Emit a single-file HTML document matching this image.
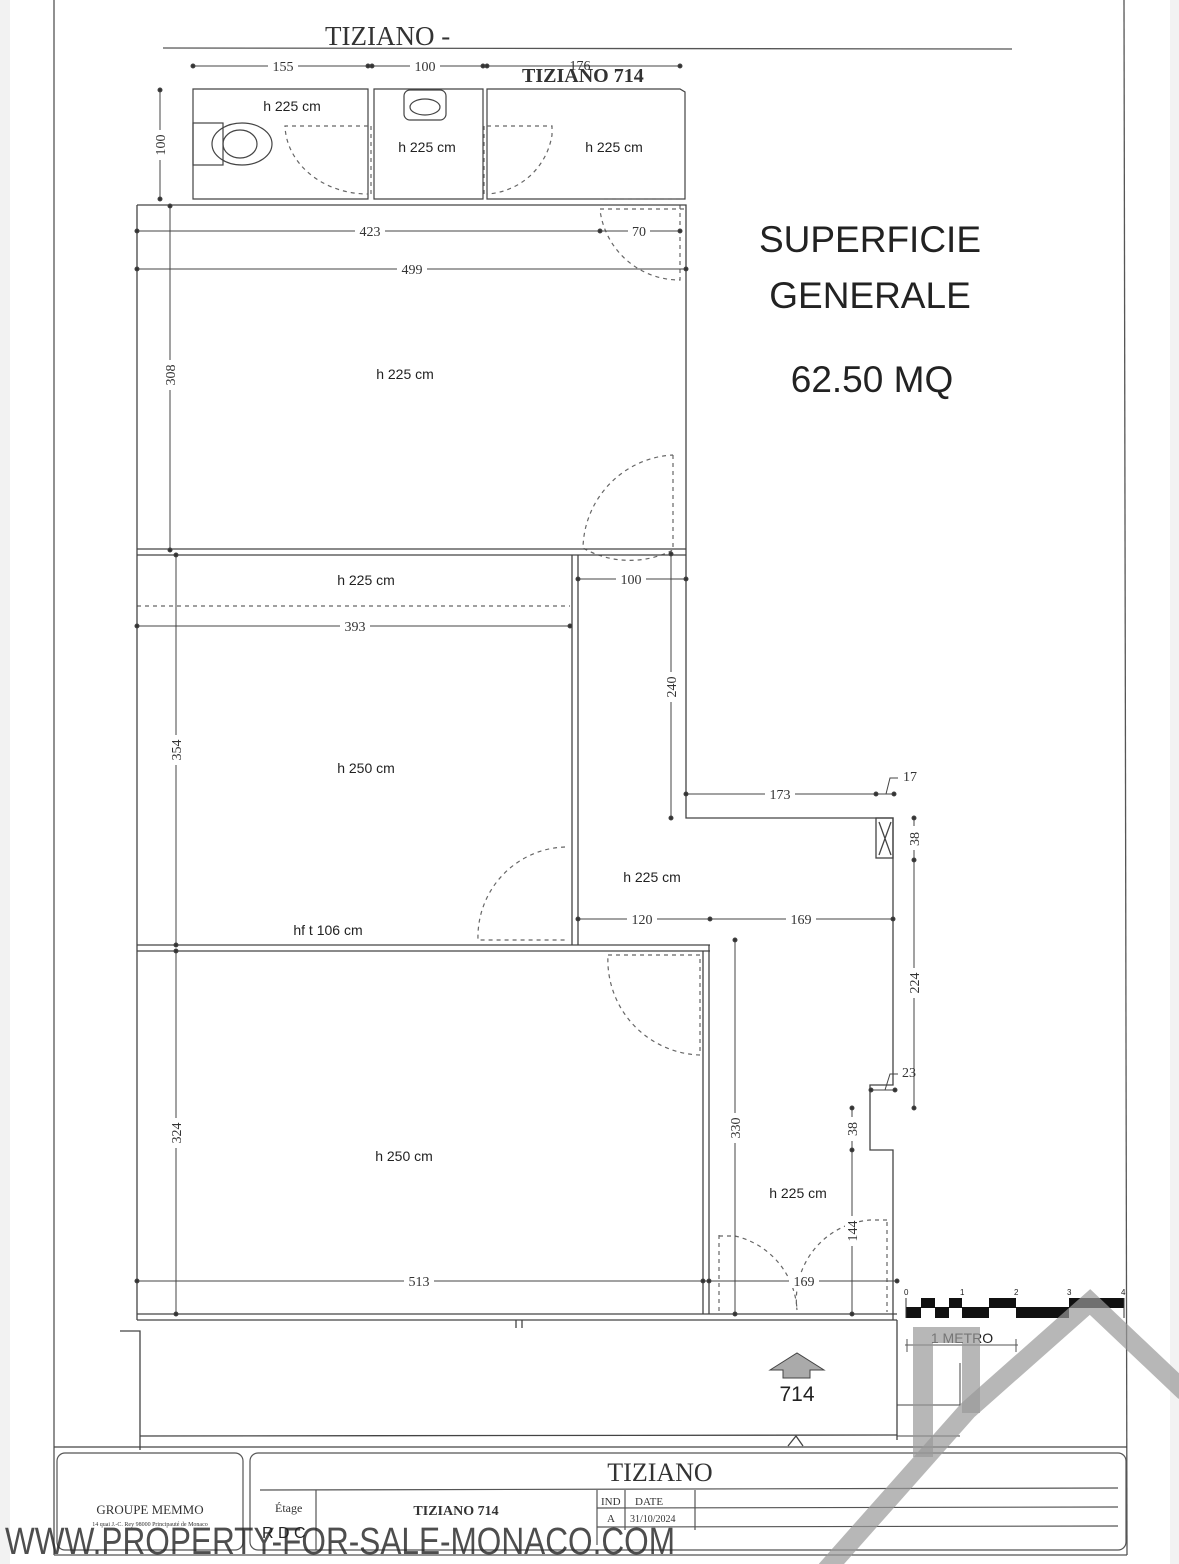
<!DOCTYPE html>
<html><head><meta charset="utf-8"><style>
html,body{margin:0;padding:0;background:#fff}
svg{display:block}
.s{font-family:"Liberation Serif",serif;fill:#333}
.a{font-family:"Liberation Sans",sans-serif;fill:#222}
</style></head><body>
<svg width="1179" height="1564" viewBox="0 0 1179 1564" xmlns="http://www.w3.org/2000/svg">
<rect x="0" y="0" width="1179" height="1564" fill="#fff"/>
<rect x="0" y="0" width="10" height="1564" fill="#f2f2f2"/>
<rect x="1170" y="0" width="9" height="1564" fill="#f2f2f2"/>
<g stroke="#555" fill="none" stroke-width="1.3">
<line x1="54" y1="0" x2="54" y2="1555"/>
<line x1="1124" y1="0" x2="1127" y2="1555"/>
<line x1="163" y1="48" x2="1012" y2="49"/>
</g>
<text x="325" y="45" class="s" font-size="27">TIZIANO -</text>

<!-- top dims -->
<g stroke="#444" stroke-width="1" fill="#333">
<line x1="193" y1="66" x2="680" y2="66"/>
<circle cx="193" cy="66" r="2"/><circle cx="368" cy="66" r="2"/><circle cx="372" cy="66" r="2"/><circle cx="483" cy="66" r="2"/><circle cx="487" cy="66" r="2"/><circle cx="680" cy="66" r="2"/>
<line x1="160" y1="90" x2="160" y2="199"/><circle cx="160" cy="90" r="2"/><circle cx="160" cy="199" r="2"/>
</g>
<g class="s" font-size="14" text-anchor="middle">
<rect x="268" y="58" width="30" height="14" fill="#fff"/><text x="283" y="71">155</text>
<rect x="410" y="58" width="30" height="14" fill="#fff"/><text x="425" y="71">100</text>
<text x="580" y="70">176</text>
<rect x="153" y="130" width="14" height="30" fill="#fff"/><text transform="translate(165,145) rotate(-90)">100</text>
</g>
<text x="522" y="82" class="s" font-size="20" font-weight="bold" fill="#111">TIZIANO 714</text>

<!-- bathroom block -->
<g stroke="#444" stroke-width="1.2" fill="none">
<path d="M193 89 H368 V199 H193 Z"/>
<path d="M374 89 H483 V199 H374 Z"/>
<path d="M487 89 H680 L685 92 V199 H487 Z"/>
<rect x="193" y="123" width="30" height="42"/>
<ellipse cx="242" cy="144" rx="30" ry="21"/><ellipse cx="240" cy="144" rx="17" ry="14"/>
<rect x="404" y="90" width="42" height="30" rx="6"/><ellipse cx="425" cy="107" rx="15" ry="8"/>
</g>
<g stroke="#666" stroke-width="1.2" fill="none" stroke-dasharray="4 4">
<path d="M368 126 H285 A83 70 0 0 0 368 194"/>
<path d="M487 126 H552 V135 A70 70 0 0 1 487 194"/>
<line x1="371" y1="126" x2="371" y2="194"/><line x1="484" y1="126" x2="484" y2="194"/>
<path d="M600 199 H684 M600 209 H684 M680 205 V280 A80 80 0 0 1 600 210"/>
<path d="M673 455 V550 A95 95 0 0 1 583 548 A95 95 0 0 1 673 455"/>
<path d="M565 847 A90 90 0 0 0 478 940 H565"/>
<path d="M608 955 H700 V1055 A95 95 0 0 1 608 955"/>
<path d="M719 1235 V1312 M719 1236 H735 A80 80 0 0 1 797 1310"/>
<path d="M887 1222 V1312 M887 1220 H870 A80 80 0 0 0 797 1310"/>
<line x1="137" y1="606" x2="570" y2="606"/>
</g>

<!-- walls -->
<g stroke="#444" stroke-width="1.3" fill="none">
<path d="M137 205 H686 V818 H893 V1085 H870 V1150 H893 V1320"/>
<line x1="137" y1="205" x2="137" y2="1320"/>
<line x1="137" y1="549" x2="686" y2="549"/><line x1="137" y1="555" x2="686" y2="555"/>
<line x1="572" y1="555" x2="572" y2="945"/><line x1="578" y1="555" x2="578" y2="945"/>
<line x1="137" y1="945" x2="710" y2="945"/><line x1="137" y1="951" x2="710" y2="951"/>
<line x1="703" y1="951" x2="703" y2="1314"/><line x1="709" y1="945" x2="709" y2="1314"/>
<line x1="137" y1="1314" x2="897" y2="1314"/><line x1="137" y1="1320" x2="897" y2="1320"/>
<rect x="876" y="818" width="17" height="40"/><path d="M879 822 L891 855 M891 822 L879 855"/>
<path d="M120 1331 H140 V1450"/>
<line x1="140" y1="1436" x2="897" y2="1435"/>
<line x1="897" y1="1320" x2="897" y2="1440"/>
<line x1="54" y1="1447" x2="1127" y2="1447"/>
<path d="M788 1446 L796 1436 L803 1446"/>
<line x1="516" y1="1320" x2="516" y2="1328"/><line x1="522" y1="1320" x2="522" y2="1328"/>
</g>

<!-- dimension lines -->
<g stroke="#444" stroke-width="1" fill="#333">
<line x1="137" y1="231" x2="680" y2="231"/><circle cx="137" cy="231" r="2"/><circle cx="600" cy="231" r="2"/><circle cx="680" cy="231" r="2"/>
<line x1="137" y1="269" x2="686" y2="269"/><circle cx="137" cy="269" r="2"/><circle cx="686" cy="269" r="2"/>
<line x1="170" y1="206" x2="170" y2="550"/><circle cx="170" cy="206" r="2"/><circle cx="170" cy="550" r="2"/>
<line x1="137" y1="626" x2="570" y2="626"/><circle cx="137" cy="626" r="2"/><circle cx="570" cy="626" r="2"/>
<line x1="176" y1="555" x2="176" y2="945"/><circle cx="176" cy="555" r="2"/><circle cx="176" cy="945" r="2"/>
<line x1="578" y1="579" x2="686" y2="579"/><circle cx="578" cy="579" r="2"/><circle cx="686" cy="579" r="2"/>
<line x1="671" y1="554" x2="671" y2="818"/><circle cx="671" cy="554" r="2"/><circle cx="671" cy="818" r="2"/>
<line x1="686" y1="794" x2="895" y2="794"/><circle cx="686" cy="794" r="2"/><circle cx="876" cy="794" r="2"/><circle cx="894" cy="794" r="2"/>
<path d="M886 794 L890 778 H898" fill="none"/>
<line x1="914" y1="818" x2="914" y2="1108"/><circle cx="914" cy="818" r="2"/><circle cx="914" cy="860" r="2"/><circle cx="914" cy="1108" r="2"/>
<line x1="578" y1="919" x2="893" y2="919"/><circle cx="578" cy="919" r="2"/><circle cx="710" cy="919" r="2"/><circle cx="893" cy="919" r="2"/>
<line x1="735" y1="940" x2="735" y2="1314"/><circle cx="735" cy="940" r="2"/><circle cx="735" cy="1314" r="2"/>
<line x1="176" y1="951" x2="176" y2="1314"/><circle cx="176" cy="951" r="2"/><circle cx="176" cy="1314" r="2"/>
<line x1="137" y1="1281" x2="897" y2="1281"/><circle cx="137" cy="1281" r="2"/><circle cx="703" cy="1281" r="2"/><circle cx="709" cy="1281" r="2"/><circle cx="897" cy="1281" r="2"/>
<line x1="852" y1="1108" x2="852" y2="1314"/><circle cx="852" cy="1108" r="2"/><circle cx="852" cy="1150" r="2"/><circle cx="852" cy="1314" r="2"/>
<line x1="871" y1="1090" x2="895" y2="1090"/><circle cx="871" cy="1090" r="2"/><circle cx="895" cy="1090" r="2"/>
<path d="M885 1090 L890 1074 H898" fill="none"/>
</g>
<g class="s" font-size="14" text-anchor="middle">
<rect x="355" y="223" width="30" height="15" fill="#fff"/><text x="370" y="236">423</text>
<rect x="628" y="223" width="22" height="15" fill="#fff"/><text x="639" y="236">70</text>
<rect x="397" y="261" width="30" height="15" fill="#fff"/><text x="412" y="274">499</text>
<rect x="163" y="360" width="14" height="30" fill="#fff"/><text transform="translate(175,375) rotate(-90)">308</text>
<rect x="340" y="618" width="30" height="15" fill="#fff"/><text x="355" y="631">393</text>
<rect x="169" y="735" width="14" height="30" fill="#fff"/><text transform="translate(181,750) rotate(-90)">354</text>
<rect x="616" y="571" width="30" height="15" fill="#fff"/><text x="631" y="584">100</text>
<rect x="664" y="672" width="14" height="30" fill="#fff"/><text transform="translate(676,687) rotate(-90)">240</text>
<rect x="765" y="786" width="30" height="15" fill="#fff"/><text x="780" y="799">173</text>
<text x="910" y="781">17</text>
<rect x="907" y="826" width="14" height="24" fill="#fff"/><text transform="translate(919,839) rotate(-90)">38</text>
<rect x="907" y="968" width="14" height="30" fill="#fff"/><text transform="translate(919,983) rotate(-90)">224</text>
<rect x="627" y="911" width="30" height="15" fill="#fff"/><text x="642" y="924">120</text>
<rect x="786" y="911" width="30" height="15" fill="#fff"/><text x="801" y="924">169</text>
<rect x="728" y="1113" width="14" height="30" fill="#fff"/><text transform="translate(740,1128) rotate(-90)">330</text>
<rect x="169" y="1118" width="14" height="30" fill="#fff"/><text transform="translate(181,1133) rotate(-90)">324</text>
<rect x="404" y="1273" width="30" height="15" fill="#fff"/><text x="419" y="1286">513</text>
<rect x="789" y="1273" width="30" height="15" fill="#fff"/><text x="804" y="1286">169</text>
<text x="909" y="1077">23</text>
<rect x="845" y="1117" width="14" height="24" fill="#fff"/><text transform="translate(857,1129) rotate(-90)">38</text>
<rect x="845" y="1216" width="14" height="30" fill="#fff"/><text transform="translate(857,1231) rotate(-90)">144</text>
</g>
<g class="a" font-size="14" text-anchor="middle">
<text x="292" y="111">h 225 cm</text>
<text x="427" y="152">h 225 cm</text>
<text x="614" y="152">h 225 cm</text>
<text x="405" y="379">h 225 cm</text>
<text x="366" y="585">h 225 cm</text>
<text x="366" y="773">h 250 cm</text>
<text x="652" y="882">h 225 cm</text>
<text x="328" y="935">hf t 106 cm</text>
<text x="404" y="1161">h 250 cm</text>
<text x="798" y="1198">h 225 cm</text>
</g>
<g class="a" font-size="37" text-anchor="middle" fill="#1a1a1a">
<text x="870" y="252">SUPERFICIE</text>
<text x="870" y="308">GENERALE</text>
<text x="872" y="392">62.50 MQ</text>
</g>

<!-- entrance arrow -->
<path d="M770 1370 L797 1353 L824 1370 H810 V1378 H783 V1370 Z" fill="#aaa" stroke="#444"/>
<text x="797" y="1401" class="a" font-size="21" text-anchor="middle">714</text>

<!-- scale bar -->
<g fill="#111">
<rect x="906" y="1307" width="15" height="11"/><rect x="921" y="1298" width="14" height="10"/>
<rect x="935" y="1307" width="14" height="11"/><rect x="949" y="1298" width="13" height="10"/>
<rect x="962" y="1307" width="27" height="11"/><rect x="989" y="1298" width="27" height="10"/>
<rect x="1016" y="1307" width="53" height="11"/><rect x="1069" y="1298" width="55" height="10"/>
</g>
<line x1="906" y1="1298" x2="906" y2="1318" stroke="#333"/><line x1="1124" y1="1298" x2="1124" y2="1318" stroke="#333"/>
<g class="a" font-size="8" fill="#444"><text x="904" y="1295">0</text><text x="960" y="1295">1</text><text x="1014" y="1295">2</text><text x="1067" y="1295">3</text><text x="1121" y="1295">4</text></g>
<line x1="905" y1="1345" x2="1018" y2="1345" stroke="#555"/><line x1="907" y1="1339" x2="907" y2="1352" stroke="#555"/><line x1="1016" y1="1339" x2="1016" y2="1352" stroke="#555"/>
<text x="962" y="1343" class="a" font-size="14" fill="#777" text-anchor="middle">1 METRO</text>
<path d="M897 1405 H960 V1363 M897 1436 H960" stroke="#444" fill="none"/>

<!-- title block -->
<g stroke="#555" fill="none" stroke-width="1.2">
<line x1="54" y1="1555" x2="1127" y2="1555"/>
<rect x="57" y="1453" width="186" height="97" rx="8"/>
<rect x="250" y="1453" width="876" height="97" rx="8"/>
<line x1="260" y1="1490" x2="1118" y2="1488"/>
<line x1="316" y1="1490" x2="316" y2="1550"/>
<line x1="597" y1="1490" x2="597" y2="1545"/>
<line x1="625" y1="1490" x2="625" y2="1530"/>
<line x1="695" y1="1490" x2="695" y2="1530"/>
<line x1="597" y1="1508" x2="1118" y2="1507"/>
<line x1="597" y1="1527" x2="1118" y2="1526"/>
</g>
<g class="s" fill="#333">
<text x="660" y="1481" font-size="26" text-anchor="middle">TIZIANO</text>
<text x="456" y="1515" font-size="14" text-anchor="middle" font-weight="bold">TIZIANO 714</text>
<text x="150" y="1514" font-size="13" text-anchor="middle">GROUPE MEMMO</text>
<text x="150" y="1526" font-size="6" text-anchor="middle">14 quai J.-C. Rey  98000 Principauté de Monaco</text>
<text x="275" y="1512" font-size="12">Étage</text>
<text x="601" y="1505" font-size="11">IND</text>
<text x="635" y="1505" font-size="11">DATE</text>
<text x="607" y="1522" font-size="11">A</text>
<text x="630" y="1522" font-size="10">31/10/2024</text>
<text x="262" y="1538" font-size="16" font-family="Liberation Sans" fill="#222">R D C</text>
</g>

<!-- watermark -->
<text x="5" y="1554" class="a" font-size="38" fill="#aaa" fill-opacity="0.8" textLength="670" lengthAdjust="spacingAndGlyphs">WWW.PROPERTY-FOR-SALE-MONACO.COM</text>
<g fill="none" stroke="#999" stroke-opacity="0.7" stroke-width="19">
<polyline points="826,1570 968,1410 1090,1302 1185,1392"/>
</g>
<g fill="#999" fill-opacity="0.7">
<rect x="913" y="1327" width="20" height="130"/>
<rect x="933" y="1327" width="47" height="16"/>
<rect x="962" y="1343" width="18" height="70"/>
</g>
</svg>
</body></html>
